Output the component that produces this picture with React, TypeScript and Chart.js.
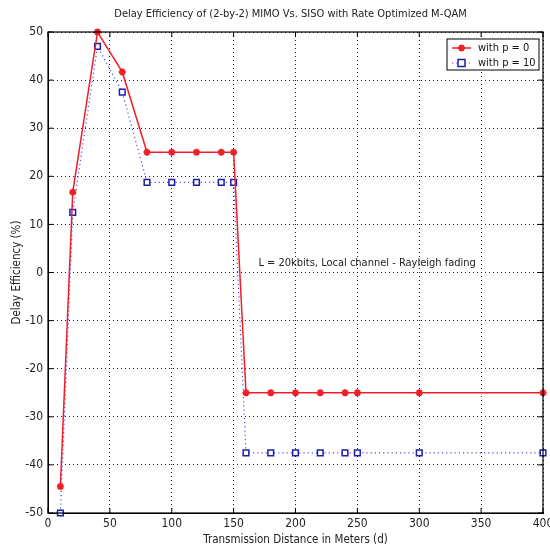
import React, { useEffect, useRef } from "react";
import { Chart, registerables } from "chart.js";

Chart.register(...registerables);

const titleText = "Delay Efficiency of (2-by-2) MIMO Vs. SISO with Rate Optimized M-QAM";
const xTitle = "Transmission Distance in Meters (d)";
const yTitle = "Delay Efficiency (%)";
const annotationText = "L = 20kbits, Local channel - Rayleigh fading";
const annotationPos = { x: 170, y: 2 };

const distances = [10, 20, 40, 60, 80, 100, 120, 140, 150, 160, 180, 200, 220, 240, 250, 300, 400];
const effP0 = [-44.5, 16.7, 50, 41.7, 25, 25, 25, 25, 25, -25, -25, -25, -25, -25, -25, -25, -25];
const effP10 = [-50, 12.5, 47, 37.5, 18.75, 18.75, 18.75, 18.75, 18.75, -37.5, -37.5, -37.5, -37.5, -37.5, -37.5, -37.5, -37.5];
const seriesLabels = ["with p = 0", "with p = 10"];

const FONT = '"Liberation Sans Narrow", "DejaVu Sans Condensed", "Liberation Sans", Arial, sans-serif';
const RED = "rgb(240,30,40)";
const BLUE_LINE = "rgba(60,60,230,0.9)";
const BLUE_MARK = "rgb(30,30,170)";

export default function App() {
  const ref = useRef<HTMLCanvasElement | null>(null);

  useEffect(() => {
    document.body.style.margin = "0";
    const canvas = ref.current;
    if (!canvas) return;

    const deco = {
      id: "deco",
      beforeDraw(chart: any) {
        const ctx = chart.ctx;
        ctx.save();
        ctx.fillStyle = "#ffffff";
        ctx.fillRect(0, 0, chart.width, chart.height);
        ctx.restore();
      },
      afterDatasetsDraw(chart: any) {
        const ctx = chart.ctx;
        const a = chart.chartArea;
        const xs = chart.scales.x;
        const ys = chart.scales.y;
        ctx.save();
        // frame
        ctx.strokeStyle = "#000";
        ctx.lineWidth = 1.2;
        ctx.setLineDash([]);
        ctx.strokeRect(a.left, a.top, a.right - a.left, a.bottom - a.top);
        // inward ticks
        ctx.lineWidth = 1;
        xs.ticks.forEach((t: any) => {
          const px = xs.getPixelForValue(t.value);
          ctx.beginPath();
          ctx.moveTo(px, a.bottom);
          ctx.lineTo(px, a.bottom - 5);
          ctx.moveTo(px, a.top);
          ctx.lineTo(px, a.top + 5);
          ctx.stroke();
        });
        ys.ticks.forEach((t: any) => {
          const py = ys.getPixelForValue(t.value);
          ctx.beginPath();
          ctx.moveTo(a.left, py);
          ctx.lineTo(a.left + 5, py);
          ctx.moveTo(a.right, py);
          ctx.lineTo(a.right - 5, py);
          ctx.stroke();
        });
        // title
        ctx.fillStyle = "#222";
        ctx.font = `11px ${FONT}`;
        ctx.textAlign = "center";
        ctx.textBaseline = "middle";
        ctx.fillText(titleText, (a.left + a.right) / 2 - 5, 14);
        // annotation
        ctx.textAlign = "left";
        ctx.font = `11px ${FONT}`;
        ctx.fillText(annotationText, xs.getPixelForValue(annotationPos.x), ys.getPixelForValue(annotationPos.y));
        // legend
        const bx = a.right - 96;
        const by = a.top + 7;
        const bw = 92;
        const bh = 31;
        ctx.fillStyle = "#fff";
        ctx.fillRect(bx, by, bw, bh);
        ctx.strokeStyle = "#000";
        ctx.lineWidth = 1;
        ctx.strokeRect(bx, by, bw, bh);
        const rows = [by + 9, by + 24];
        const lx0 = bx + 5;
        const lx1 = bx + 24;
        const mx = (lx0 + lx1) / 2;
        // row 1
        ctx.strokeStyle = RED;
        ctx.lineWidth = 1.5;
        ctx.beginPath();
        ctx.moveTo(lx0, rows[0]);
        ctx.lineTo(lx1, rows[0]);
        ctx.stroke();
        ctx.lineWidth = 2;
        const r = 3.5;
        ctx.beginPath();
        ctx.moveTo(mx - r, rows[0]);
        ctx.lineTo(mx + r, rows[0]);
        ctx.moveTo(mx, rows[0] - r);
        ctx.lineTo(mx, rows[0] + r);
        ctx.moveTo(mx - r * 0.7, rows[0] - r * 0.7);
        ctx.lineTo(mx + r * 0.7, rows[0] + r * 0.7);
        ctx.moveTo(mx - r * 0.7, rows[0] + r * 0.7);
        ctx.lineTo(mx + r * 0.7, rows[0] - r * 0.7);
        ctx.stroke();
        // row 2
        ctx.strokeStyle = BLUE_LINE;
        ctx.lineWidth = 1.2;
        ctx.setLineDash([1.2, 3]);
        ctx.beginPath();
        ctx.moveTo(lx0, rows[1]);
        ctx.lineTo(lx1, rows[1]);
        ctx.stroke();
        ctx.setLineDash([]);
        ctx.fillStyle = "#fff";
        ctx.fillRect(mx - 3.5, rows[1] - 3.5, 7, 7);
        ctx.strokeStyle = BLUE_MARK;
        ctx.lineWidth = 1.5;
        ctx.strokeRect(mx - 3.5, rows[1] - 3.5, 7, 7);
        ctx.fillStyle = "#111";
        ctx.font = `11px ${FONT}`;
        ctx.textAlign = "left";
        ctx.fillText(seriesLabels[0], bx + 31, rows[0]);
        ctx.fillText(seriesLabels[1], bx + 31, rows[1]);
        ctx.restore();
      },
    };

    const gridCommon = {
      color: "rgba(0,0,0,0.9)",
      lineWidth: 1,
      drawTicks: false,
    };

    const chart = new Chart(canvas, {
      type: "line",
      data: {
        datasets: [
          {
            label: seriesLabels[0],
            data: distances.map((d, i) => ({ x: d, y: effP0[i] })),
            borderColor: RED,
            backgroundColor: RED,
            borderWidth: 1.5,
            pointStyle: "star",
            pointRadius: 3.5,
            pointBorderWidth: 2,
            pointBorderColor: RED,
            tension: 0,
            clip: false as any,
          },
          {
            label: seriesLabels[1],
            data: distances.map((d, i) => ({ x: d, y: effP10[i] })),
            borderColor: BLUE_LINE,
            borderDash: [1.2, 3],
            borderWidth: 1.2,
            pointStyle: "rect",
            pointRadius: 4,
            pointBorderWidth: 1.5,
            pointBorderColor: BLUE_MARK,
            pointBackgroundColor: "#ffffff",
            tension: 0,
            clip: false as any,
          },
        ],
      },
      options: {
        animation: false,
        responsive: false,
        maintainAspectRatio: false,
        layout: { padding: { top: 32, right: 7, left: 0, bottom: 0 } },
        plugins: {
          legend: { display: false },
          title: { display: false },
          tooltip: { enabled: false },
        },
        scales: {
          x: {
            type: "linear",
            min: 0,
            max: 400,
            ticks: {
              stepSize: 50,
              padding: 4,
              color: "#222",
              font: { family: FONT, size: 12 },
              maxRotation: 0,
            },
            grid: { ...gridCommon } as any,
            border: { display: true, color: "#000", dash: [1, 3] } as any,
            title: {
              display: true,
              text: xTitle,
              color: "#222",
              font: { family: FONT, size: 11.5 },
              padding: { top: 0, bottom: 2 },
            },
            afterFit(scale: any) {
              scale.height = 36;
              scale.paddingLeft = 0;
              scale.paddingRight = 0;
            },
          },
          y: {
            type: "linear",
            min: -50,
            max: 50,
            ticks: {
              stepSize: 10,
              padding: 5,
              color: "#222",
              font: { family: FONT, size: 12 },
            },
            grid: { ...gridCommon } as any,
            border: { display: true, color: "#000", dash: [1, 3] } as any,
            title: {
              display: true,
              text: yTitle,
              color: "#222",
              font: { family: FONT, size: 11.5 },
              padding: { top: 10, bottom: 0 },
            },
            afterFit(scale: any) {
              scale.width = 48;
              scale.paddingTop = 0;
              scale.paddingBottom = 0;
            },
          },
        },
      } as any,
      plugins: [deco],
    });

    return () => {
      chart.destroy();
    };
  }, []);

  return (
    <div style={{ width: 550, height: 549 }}>
      <canvas ref={ref} width={550} height={549} style={{ display: "block", width: 550, height: 549 }} />
    </div>
  );
}
